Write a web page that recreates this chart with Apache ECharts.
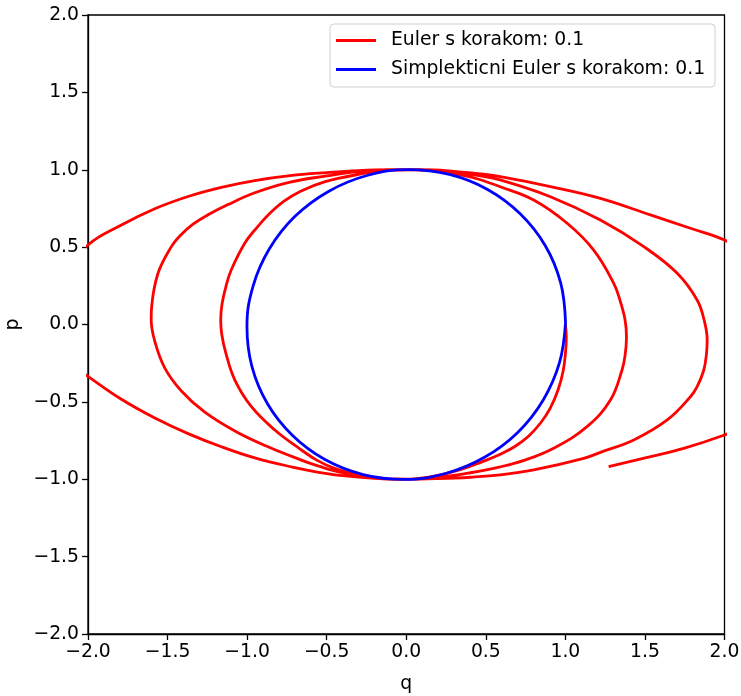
<!DOCTYPE html>
<html>
<head>
<meta charset="utf-8">
<script src="https://cdn.jsdelivr.net/npm/echarts@6/dist/echarts.min.js"></script>
<style>
html,body{margin:0;padding:0;background:#fff;}
#chart{width:741px;height:696px;}
</style>
</head>
<body>
<div id="chart"></div>
<script>
// Euler s korakom 0.1 : [q, p], half-turn by half-turn, in drawing order
const eulerTurn0 = [[1.000,0.000],[1.006,-0.080],[1.001,-0.180],[0.986,-0.300],[0.955,-0.420],[0.905,-0.540],[0.845,-0.635],[0.770,-0.720],[0.680,-0.790],[0.591,-0.838],[0.500,-0.878],[0.403,-0.915],[0.300,-0.950],[0.150,-0.985],[0.000,-1.000],[-0.150,-0.997],[-0.300,-0.975],[-0.450,-0.930],[-0.560,-0.878],[-0.667,-0.805],[-0.826,-0.682],[-0.973,-0.531],[-1.077,-0.359],[-1.135,-0.180],[-1.160,-0.060]];
const eulerTurn1 = [[-1.166,0.030],[-1.158,0.130],[-1.132,0.250],[-1.100,0.352],[-1.015,0.525],[-0.940,0.625],[-0.860,0.715],[-0.770,0.795],[-0.667,0.860],[-0.509,0.923],[-0.300,0.970],[-0.100,0.997],[0.050,1.000],[0.200,0.990],[0.350,0.965],[0.450,0.940],[0.591,0.890],[0.801,0.804],[1.011,0.654],[1.178,0.481],[1.304,0.266],[1.345,0.150],[1.375,0.030]];
const eulerTurn2 = [[1.384,-0.080],[1.375,-0.200],[1.356,-0.294],[1.283,-0.488],[1.136,-0.660],[0.926,-0.800],[0.750,-0.875],[0.591,-0.920],[0.403,-0.958],[0.200,-0.988],[0.000,-1.000],[-0.200,-0.990],[-0.400,-0.958],[-0.550,-0.915],[-0.667,-0.873],[-0.847,-0.800],[-1.057,-0.700],[-1.266,-0.567],[-1.413,-0.430],[-1.518,-0.280],[-1.580,-0.110]];
const eulerTurn3 = [[-1.603,0.030],[-1.600,0.115],[-1.560,0.331],[-1.476,0.503],[-1.420,0.575],[-1.340,0.648],[-1.240,0.712],[-1.120,0.775],[-0.952,0.851],[-0.730,0.920],[-0.500,0.960],[-0.300,0.988],[-0.100,1.000],[0.100,1.000],[0.300,0.985],[0.450,0.963],[0.591,0.934],[0.906,0.826],[1.220,0.675],[1.493,0.503],[1.703,0.331],[1.828,0.158],[1.874,0.020]];
const eulerTurn4 = [[1.891,-0.100],[1.887,-0.186],[1.870,-0.294],[1.828,-0.402],[1.786,-0.467],[1.640,-0.617],[1.430,-0.746],[1.220,-0.826],[1.115,-0.865],[0.801,-0.940],[0.591,-0.972],[0.403,-0.987],[0.200,-0.996],[0.000,-1.000],[-0.200,-0.994],[-0.400,-0.977],[-0.550,-0.955],[-0.700,-0.925],[-0.952,-0.862],[-1.162,-0.790],[-1.371,-0.705],[-1.580,-0.604],[-1.790,-0.483],[-2.000,-0.335],[-2.070,-0.282],[-2.160,-0.110],[-2.190,0.030]];
const eulerTurn5 = [[-2.190,0.115],[-2.130,0.331],[-2.000,0.514],[-1.790,0.643],[-1.580,0.748],[-1.371,0.827],[-1.162,0.886],[-0.952,0.930],[-0.730,0.962],[-0.500,0.982],[-0.300,0.995],[-0.100,1.000],[0.100,1.000],[0.300,0.990],[0.450,0.975],[0.591,0.955],[0.906,0.891],[1.220,0.815],[1.535,0.708],[1.786,0.622],[2.000,0.546],[2.250,0.400],[2.450,0.200],[2.550,0.000]];
const eulerTurn6 = [[2.570,-0.100],[2.540,-0.294],[2.430,-0.467],[2.230,-0.617],[2.000,-0.714],[1.744,-0.800],[1.535,-0.854],[1.272,-0.919]];

// Simplekticni Euler s korakom 0.1 : [q, p]
const simplecticPoints = [[1.001,0.013],[0.970,0.271],[0.873,0.511],[0.716,0.716],[0.511,0.873],[0.271,0.970],[0.013,1.001],[-0.247,0.963],[-0.489,0.860],[-0.699,0.699],[-0.860,0.489],[-0.963,0.247],[-1.001,-0.013],[-0.970,-0.271],[-0.873,-0.511],[-0.716,-0.716],[-0.511,-0.873],[-0.271,-0.970],[-0.013,-1.001],[0.247,-0.963],[0.489,-0.860],[0.699,-0.699],[0.860,-0.489],[0.963,-0.247],[1.001,0.013]];

const seriesNames = ['Euler s korakom: 0.1', 'Simplekticni Euler s korakom: 0.1'];
const axisMin = -2, axisMax = 2, tickStep = 0.5;

const eulerPoints = [].concat(eulerTurn0, eulerTurn1, eulerTurn2, eulerTurn3, eulerTurn4, eulerTurn5, eulerTurn6);
const fmt = v => (v < 0 ? '\u2212' : '') + Math.abs(v).toFixed(1);
const FONT = 'DejaVu Sans';
const FS = 18.8;

const chart = echarts.init(document.getElementById('chart'), null, {renderer: 'canvas'});
const axisCommon = {
  type: 'value', min: axisMin, max: axisMax, interval: tickStep,
  splitLine: {show: false},
  axisLine: {show: true, onZero: false, lineStyle: {color: '#000', width: 1.3}},
  axisTick: {show: true, inside: false, length: 6, lineStyle: {color: '#000', width: 1.3}},
  axisLabel: {formatter: fmt, color: '#000', fontFamily: FONT, fontSize: FS, margin: 9},
  nameLocation: 'middle',
  nameTextStyle: {color: '#000', fontFamily: FONT, fontSize: FS}
};
chart.setOption({
  animation: false,
  backgroundColor: '#fff',
  grid: {left: 88, right: 16.5, top: 15, bottom: 62, containLabel: false, outerBoundsMode: 'none',
         show: true, borderColor: '#000', borderWidth: 1.3, backgroundColor: 'transparent'},
  xAxis: Object.assign({}, axisCommon, {name: 'q', nameGap: 41}),
  yAxis: Object.assign({}, axisCommon, {name: 'p', nameGap: 61, nameRotate: 90}),
  legend: {
    orient: 'vertical', left: 330, top: 24,
    padding: [7, 10, 8, 6],
    itemGap: 10, itemWidth: 40, itemHeight: 3, icon: 'rect',
    backgroundColor: 'rgba(255,255,255,0.8)', borderColor: '#d0d0d0', borderWidth: 1, borderRadius: 4,
    textStyle: {color: '#000', fontFamily: FONT, fontSize: FS, lineHeight: 18, padding: [0, 0, 0, 10]},
    data: seriesNames
  },
  series: [
    {name: seriesNames[0], type: 'line', data: eulerPoints, showSymbol: false, symbol: 'none', smooth: 0.4, clip: true,
     lineStyle: {color: '#ff0000', width: 2.8}, itemStyle: {color: '#ff0000'}, z: 2},
    {name: seriesNames[1], type: 'line', data: simplecticPoints, showSymbol: false, symbol: 'none', smooth: 0.4, clip: true,
     lineStyle: {color: '#0000ff', width: 2.8}, itemStyle: {color: '#0000ff'}, z: 3}
  ]
});
</script>
</body>
</html>
